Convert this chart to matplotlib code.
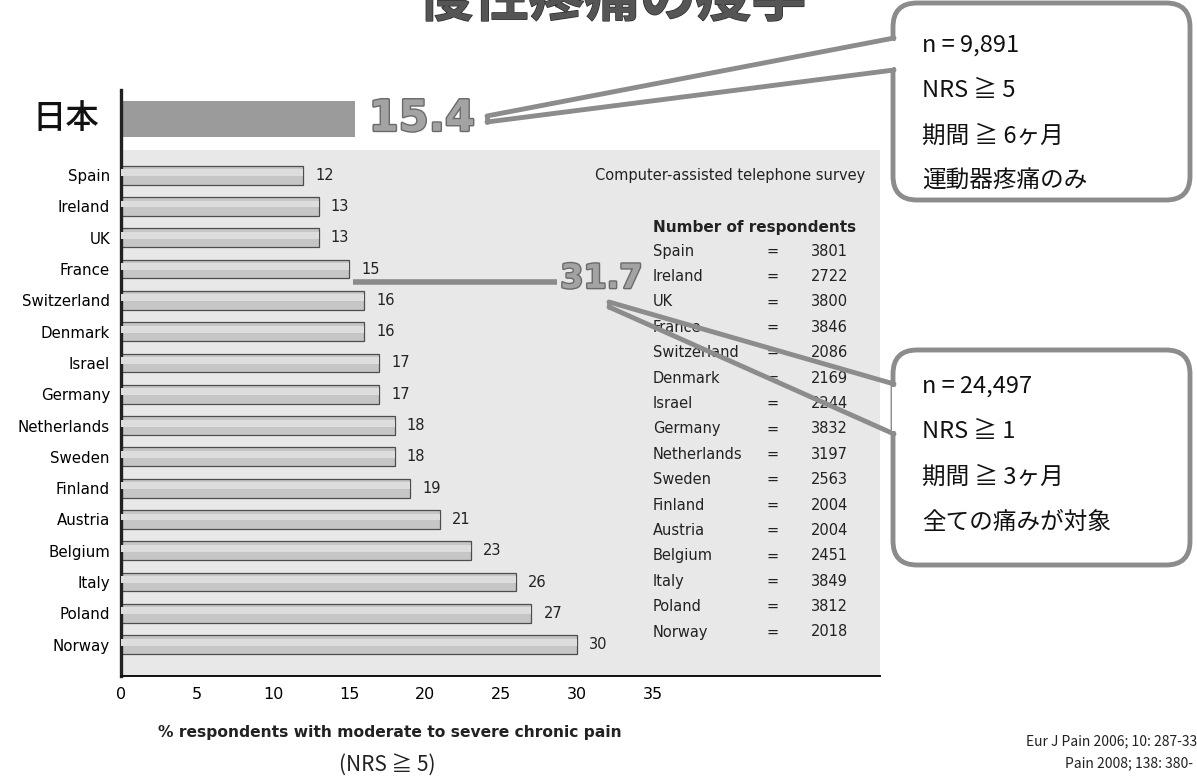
import matplotlib
matplotlib.use("Agg")
import matplotlib.pyplot as plt
import matplotlib.patheffects as pe
from matplotlib.patches import FancyBboxPatch, Polygon
import numpy as np

# data
countries = ["Spain", "Ireland", "UK", "France", "Switzerland", "Denmark", "Israel",
             "Germany", "Netherlands", "Sweden", "Finland", "Austria", "Belgium",
             "Italy", "Poland", "Norway"]
prevalence = [12, 13, 13, 15, 16, 16, 17, 17, 18, 18, 19, 21, 23, 26, 27, 30]
respondents = [3801, 2722, 3800, 3846, 2086, 2169, 2244, 3832, 3197, 2563,
               2004, 2004, 2451, 3849, 3812, 2018]
japan_label = "日本"
japan_value = 15.4
japan_all_pain = 31.7
xticks = [0, 5, 10, 15, 20, 25, 30, 35]

title = "慢性疼痛の疫学"
survey_note = "Computer-assisted telephone survey"
table_title = "Number of respondents"
callout_japan = ["n = 9,891", "NRS ≧ 5", "期間 ≧ 6ヶ月", "運動器疼痛のみ"]
callout_all = ["n = 24,497", "NRS ≧ 1", "期間 ≧ 3ヶ月", "全ての痛みが対象"]
xlabel = "% respondents with moderate to severe chronic pain"
xlabel2 = "(NRS ≧ 5)"
refs = ["Eur J Pain 2006; 10: 287-33", "Pain 2008; 138: 380-"]

CJK = ["Noto Sans CJK JP", "DejaVu Sans"]
SANS = ["DejaVu Sans"]

W, H = 1197, 779
fig = plt.figure(figsize=(W / 100, H / 100), dpi=100)

# main bar axes, placed in pixels
left, right, top, bottom = 121, 880, 90, 676
ax = fig.add_axes([left / W, 1 - bottom / H, (right - left) / W, (bottom - top) / H])
ypos = np.arange(len(countries))
japan_y = -1.8
ax.set_xlim(0, (right - left) / 15.2)
ax.set_ylim(16.0, -2.72)

ax.axhspan(-0.8, 16.0, color="#e8e8e8", zorder=0, lw=0)
ax.barh(ypos, prevalence, height=0.6, color="#c6c6c6", edgecolor="#4d4d4d",
        linewidth=0.9, zorder=2)
ax.barh(ypos - 0.08, prevalence, height=0.22, color="#dddddd", lw=0, zorder=3)
ax.barh([japan_y], [japan_value], height=1.15, color="#9b9b9b", lw=0, zorder=2)

for y, v in zip(ypos, prevalence):
    ax.text(v + 0.8, y, str(v), va="center", ha="left", fontsize=10.5,
            family=SANS, color="#222222")

ax.text(japan_value + 0.9, japan_y, f"{japan_value}", va="center", ha="left",
        fontsize=31, fontweight="bold", color="#a3a3a3",
        path_effects=[pe.withStroke(linewidth=2, foreground="#6a6a6a")])
ax.text(-1.4, japan_y, japan_label, va="center", ha="right",
        fontsize=24, fontweight="medium", family=CJK, color="#111111")

# line from France bar to all-pain figure
fr = countries.index("France")
ax.plot([prevalence[fr] + 0.25, 28.7], [fr + 0.42, fr + 0.42], color="#8a8a8a",
        lw=4, solid_capstyle="butt", zorder=4)
ax.text(28.9, fr + 0.3, f"{japan_all_pain}", va="center", ha="left",
        fontsize=24, fontweight="bold", color="#a3a3a3", zorder=5,
        path_effects=[pe.withStroke(linewidth=2, foreground="#6a6a6a")])

ax.set_yticks(ypos)
ax.set_yticklabels(countries, family=SANS, fontsize=10.8)
ax.set_xticks(xticks)
ax.set_xticklabels([str(t) for t in xticks], family=SANS, fontsize=11.5)
ax.tick_params(axis="y", length=0, pad=8)
ax.tick_params(axis="x", length=0, pad=8)
for s in ["top", "right"]:
    ax.spines[s].set_visible(False)
ax.spines["left"].set_linewidth(2.4)
ax.spines["left"].set_color("#222222")
ax.spines["bottom"].set_linewidth(1.4)
ax.spines["bottom"].set_color("#111111")
ax.patch.set_alpha(0)

# overlay in pixel coordinates for annotations
ov = fig.add_axes([0, 0, 1, 1])
ov.set_xlim(0, W)
ov.set_ylim(H, 0)
ov.axis("off")
ov.patch.set_alpha(0)

# title is cut by the top edge in the reference
ov.text(612, 16, title, ha="center", va="baseline", fontsize=40, fontweight="bold",
        family=CJK, color="#555555",
        path_effects=[pe.withStroke(linewidth=1.0, foreground="#2a2a2a")])

ov.text(865, 175, survey_note, ha="right", va="center", fontsize=10.5,
        family=SANS, color="#222222")
ov.text(653, 227, table_title, ha="left", va="center", fontsize=11,
        fontweight="bold", family=SANS, color="#222222")
for i, (c, n) in enumerate(zip(countries, respondents)):
    yy = 251 + i * 25.4
    ov.text(653, yy, c, ha="left", va="center", fontsize=10.5, family=SANS,
            color="#222222")
    ov.text(773, yy, "=", ha="center", va="center", fontsize=10.5, family=SANS,
            color="#222222")
    ov.text(848, yy, str(n), ha="right", va="center", fontsize=10.5, family=SANS,
            color="#222222")

ov.text(390, 733, xlabel, ha="center", va="center", fontsize=11.2, fontweight="bold",
        family=SANS, color="#222222")
ov.text(387, 765, xlabel2, ha="center", va="center", fontsize=15, family=CJK,
        color="#222222")
ov.text(1197, 741, refs[0], ha="right", va="center", fontsize=10, family=CJK,
        color="#222222")
ov.text(1193, 763, refs[1], ha="right", va="center", fontsize=10, family=CJK,
        color="#222222")

edge = "#8c8c8c"


def callout(x0, y0, w, h, j1, j2, tip1, tip2, lines, ty, fill_tail):
    box = FancyBboxPatch((x0, y0), w, h, boxstyle="round,pad=0,rounding_size=24",
                         fc="white", ec=edge, lw=3.5, zorder=5)
    ov.add_patch(box)
    pts = [(x0, j1), tip1, tip2, (x0, j2)]
    if fill_tail:
        ov.add_patch(Polygon(pts, closed=True, fc="white", ec="none", zorder=5))
    ov.plot([x0 + 1, tip1[0]], [j1, tip1[1]], color=edge, lw=3.5,
            solid_capstyle="round", zorder=6)
    ov.plot([x0 + 1, tip2[0]], [j2, tip2[1]], color=edge, lw=3.5,
            solid_capstyle="round", zorder=6)
    ov.plot([tip1[0], tip2[0]], [tip1[1], tip2[1]], color=edge, lw=3.5,
            solid_capstyle="round", zorder=6)
    ov.add_patch(Polygon([(x0 - 1, j1 + 3), (x0 + 6, j1 + 3), (x0 + 6, j2 - 3),
                          (x0 - 1, j2 - 3)], closed=True, fc="white", ec="none",
                         zorder=7))
    for k, t in enumerate(lines):
        ov.text(x0 + 29, ty + k * 45.5, t, ha="left", va="center", fontsize=17,
                family=CJK, color="#111111", zorder=8)


callout(893, 3, 297, 197, 38, 70, (487, 116), (487, 122), callout_japan, 45, True)
callout(893, 350, 297, 215, 384, 434, (609, 302), (609, 307), callout_all, 386, False)

fig.savefig("out.png", dpi=100)
